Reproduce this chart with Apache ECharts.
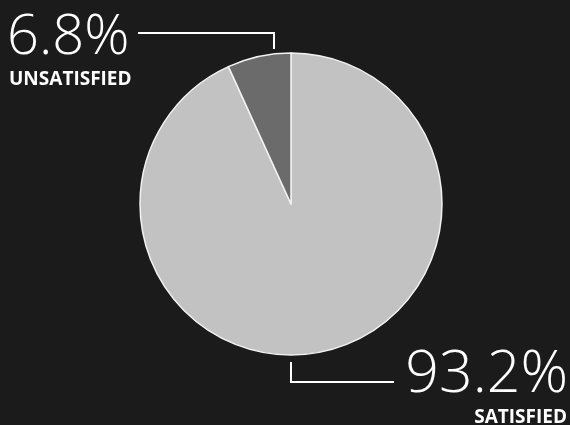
<!DOCTYPE html>
<html><head><meta charset="utf-8">
<script src="https://cdn.jsdelivr.net/npm/echarts@6/dist/echarts.min.js"></script>
<style>html,body{margin:0;padding:0;background:#1b1b1b;}#c{width:570px;height:425px;}</style>
</head><body><div id="c"></div>
<script>
const categories = ['SATISFIED', 'UNSATISFIED'];
const values = [93.2, 6.8];
const colors = ['#c2c2c2', '#6b6b6b'];

const chart = echarts.init(document.getElementById('c'));
const bigFont = {fontFamily: 'Open Sans', fontWeight: 300, fontSize: 56, fill: '#ffffff'};
const smallFont = {fontFamily: 'Open Sans', fontWeight: 700, fontSize: 19, fill: '#ffffff'};
chart.setOption({
  backgroundColor: '#1b1b1b',
  animation: false,
  series: [{
    type: 'pie',
    center: [291, 204],
    radius: [0, 151],
    startAngle: 90,
    clockwise: true,
    label: {show: false},
    labelLine: {show: false},
    itemStyle: {borderColor: '#f2f2f2', borderWidth: 1.5},
    data: categories.map((c, i) => ({name: c, value: values[i], itemStyle: {color: colors[i]}}))
  }],
  graphic: [
    {type: 'text', left: 7, top: 10, style: Object.assign({text: values[1].toFixed(1) + '%'}, bigFont)},
    {type: 'text', left: 9, top: 70, style: Object.assign({text: categories[1]}, smallFont)},
    {type: 'polyline', shape: {points: [[138, 33], [274, 33], [274, 49]]}, style: {stroke: '#ffffff', lineWidth: 2, fill: null}},
    {type: 'text', right: 2, top: 346, style: Object.assign({}, bigFont, {text: values[0].toFixed(1) + '%', fontSize: 59})},
    {type: 'text', right: 3, top: 408, style: Object.assign({text: categories[0]}, smallFont)},
    {type: 'polyline', shape: {points: [[291, 362], [291, 382], [394, 382]]}, style: {stroke: '#ffffff', lineWidth: 2, fill: null}}
  ]
});
</script></body></html>
